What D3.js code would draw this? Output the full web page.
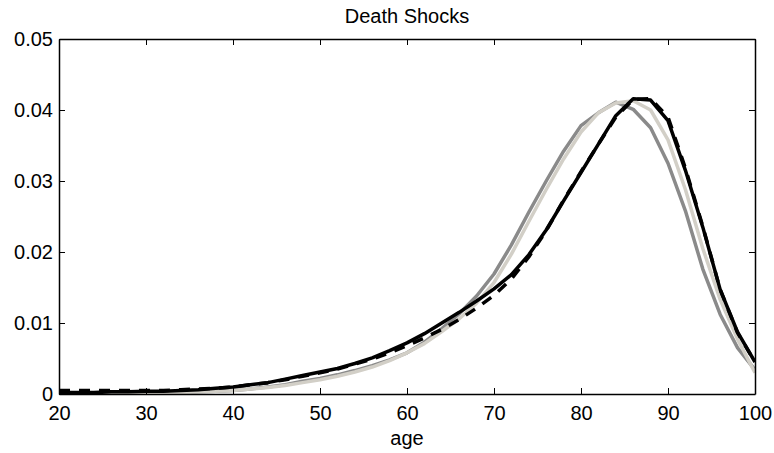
<!DOCTYPE html>
<html>
<head>
<meta charset="utf-8">
<script src="https://cdn.jsdelivr.net/npm/d3@7"></script>
<style>
  html, body { margin: 0; padding: 0; background: #fff; }
  svg { display: block; font-family: "Liberation Sans", Arial, sans-serif; }
</style>
</head>
<body>
<svg id="chart" width="774" height="453"></svg>
<script>
const title = "Death Shocks";
const xLabel = "age";
const ages = [20,22,24,26,28,30,32,34,36,38,40,42,44,46,48,50,52,54,56,58,60,62,64,66,68,70,72,74,76,78,80,82,84,86,88,90,92,94,96,98,100];
const xTicks = [20,30,40,50,60,70,80,90,100];
const yTicks = [0,0.01,0.02,0.03,0.04,0.05];
const yTickLabels = ["0","0.01","0.02","0.03","0.04","0.05"];

const seriesDarkGray = [0.0000,0.0000,0.0000,0.0001,0.0001,0.0001,0.0001,0.0002,0.0003,0.0004,0.0005,0.0007,0.0010,0.0013,0.0018,0.0022,0.0027,0.0033,0.0040,0.0048,0.0058,0.0073,0.0092,0.0113,0.0138,0.0169,0.0210,0.0256,0.0300,0.0342,0.0378,0.0396,0.0411,0.0401,0.0375,0.0325,0.0258,0.0176,0.0112,0.0065,0.0034];
const seriesLightGray = [0.0000,0.0000,0.0000,0.0001,0.0001,0.0001,0.0001,0.0002,0.0003,0.0004,0.0005,0.0007,0.0009,0.0012,0.0016,0.0020,0.0025,0.0031,0.0038,0.0047,0.0058,0.0071,0.0088,0.0106,0.0128,0.0157,0.0197,0.0243,0.0288,0.0331,0.0369,0.0396,0.0410,0.0413,0.0400,0.0358,0.0288,0.0205,0.0133,0.0077,0.0030];
const seriesDashed = [0.0005,0.0005,0.0005,0.0005,0.0005,0.0005,0.0005,0.0006,0.0007,0.0008,0.0010,0.0013,0.0016,0.0020,0.0025,0.0030,0.0035,0.0042,0.0049,0.0058,0.0068,0.0079,0.0091,0.0105,0.0121,0.0139,0.0162,0.0193,0.0230,0.0273,0.0313,0.0352,0.0390,0.0415,0.0416,0.0390,0.0318,0.0236,0.0147,0.0086,0.0045];
const seriesBlack = [0.0002,0.0002,0.0002,0.0003,0.0003,0.0004,0.0004,0.0005,0.0006,0.0008,0.0010,0.0013,0.0016,0.0021,0.0026,0.0031,0.0036,0.0043,0.0051,0.0061,0.0072,0.0085,0.0100,0.0115,0.0131,0.0148,0.0168,0.0196,0.0231,0.0272,0.0312,0.0352,0.0392,0.0416,0.0414,0.0385,0.0315,0.0235,0.0147,0.0087,0.0045];

const series = [
  {values: seriesDarkGray, color: "#8a8a8a", dash: null},
  {values: seriesLightGray, color: "#d2cfc7", dash: null},
  {values: seriesDashed, color: "#000000", dash: "11,9"},
  {values: seriesBlack, color: "#000000", dash: null}
];

const svg = d3.select("#chart");
const L = 59, R = 755, T = 39, B = 394;
const x = d3.scaleLinear().domain([20, 100]).range([L, R]);
const y = d3.scaleLinear().domain([0, 0.05]).range([B, T]);

svg.append("defs").append("clipPath").attr("id", "clip")
  .append("rect").attr("x", L).attr("y", T).attr("width", R - L).attr("height", B - T);

const line = d3.line().x((d, i) => x(ages[i])).y(d => y(d));
const g = svg.append("g").attr("clip-path", "url(#clip)");
series.forEach(s => {
  g.append("path")
    .datum(s.values)
    .attr("d", line)
    .attr("fill", "none")
    .attr("stroke", s.color)
    .attr("stroke-width", 3.5)
    .attr("stroke-linejoin", "round")
    .attr("stroke-dasharray", s.dash);
});

const tickLen = 6;
const fmtY = (d, i) => yTickLabels[i];
const axB = svg.append("g").attr("transform", `translate(0,${B})`)
  .call(d3.axisBottom(x).tickValues(xTicks).tickSizeInner(-tickLen).tickSizeOuter(0).tickPadding(12).tickFormat(d3.format("d")));
const axT = svg.append("g").attr("transform", `translate(0,${T})`)
  .call(d3.axisTop(x).tickValues(xTicks).tickSizeInner(-tickLen).tickSizeOuter(0).tickFormat(""));
const axL = svg.append("g").attr("transform", `translate(${L},0)`)
  .call(d3.axisLeft(y).tickValues(yTicks).tickSizeInner(-tickLen).tickSizeOuter(0).tickPadding(6).tickFormat(fmtY));
const axR = svg.append("g").attr("transform", `translate(${R},0)`)
  .call(d3.axisRight(y).tickValues(yTicks).tickSizeInner(-tickLen).tickSizeOuter(0).tickFormat(""));

[axB, axT, axL, axR].forEach(a => {
  a.select(".domain").attr("stroke", "#000").attr("stroke-width", 1.5);
  a.selectAll(".tick line").attr("stroke", "#000").attr("stroke-width", 1);
  a.selectAll("text").attr("font-family", "Liberation Sans, Arial, sans-serif").attr("font-size", 20).attr("fill", "#000");
});
axB.selectAll("text").attr("y", 12).attr("dy", "0.71em");

svg.append("text").attr("x", (L + R) / 2).attr("y", 23)
  .attr("text-anchor", "middle").attr("font-size", 20).attr("fill", "#000").text(title);
svg.append("text").attr("x", (L + R) / 2).attr("y", 445)
  .attr("text-anchor", "middle").attr("font-size", 20).attr("fill", "#000").text(xLabel);
</script>
</body>
</html>
